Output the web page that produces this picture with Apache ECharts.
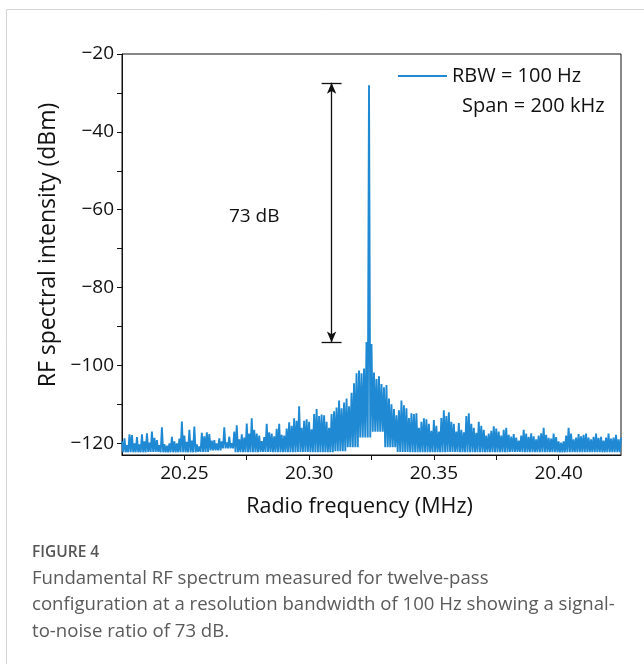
<!DOCTYPE html>
<html>
<head>
<meta charset="utf-8">
<script src="https://cdn.jsdelivr.net/npm/echarts@6/dist/echarts.min.js"></script>
<style>
  html, body { margin: 0; padding: 0; background: #fff; }
  #main { width: 644px; height: 664px; }
</style>
</head>
<body>
<div id="main"></div>
<script>
// RF spectrum, span 200 kHz around 20.325 MHz, 1 kHz per point
var freqStart = 20.225;
var freqStep = 0.001;

// top of the trace at every kHz (dBm)
var peaks = [
  -119.5, -118.7, -120.5, -117.7, -117.9, -120, -118.4, -120.3, -117.7, -119.5,
  -117.4, -119.8, -117, -118.6, -119.2, -120.5, -115.9, -120.2, -120.6, -120,
  -118.3, -119.5, -120, -118.8, -114.4, -118, -119.6, -116.5, -119.3, -115.7,
  -120.3, -120.8, -117.3, -118.2, -117.2, -117.6, -119.3, -119.2, -120, -118.7,
  -119.5, -115.9, -119.8, -118.3, -120, -117, -115.4, -119, -117.7, -118.5,
  -114.9, -117.5, -113.6, -116.5, -117.5, -118, -119.4, -118.4, -115, -117.2,
  -117.5, -118.2, -116.3, -115, -117.8, -118, -116.2, -114.6, -115.5, -113.6,
  -114.2, -110.5, -116, -114.2, -113.8, -114.5, -116.4, -112.5, -111.2, -113,
  -112.6, -112.8, -114.5, -116, -112.5, -111.8, -110.8, -109, -111, -109.5,
  -108.5, -110.5, -107, -104.6, -102, -101.3, -102, -100.8, -94, -28,
  -94.5, -101.8, -103.5, -102.8, -104.8, -105.6, -105, -108.5, -110, -111.2,
  -112.8, -111.5, -109, -110.2, -111, -113.5, -112.3, -112.5, -112.3, -116,
  -114.5, -113.6, -113.8, -115, -116.8, -114, -115.5, -117, -113.5, -111.5,
  -113, -112, -114.5, -115, -117, -114.8, -116.5, -117.2, -113, -112.3,
  -115, -116, -117.3, -114.5, -115.5, -116.5, -118, -117.5, -116.8, -115.6,
  -116.2, -117, -118, -116.5, -116, -117.8, -118.3, -117.6, -118.5, -119.3,
  -118, -116.5, -117.5, -118.3, -117.4, -118.2, -119, -118, -117.4, -116,
  -117.8, -118.6, -118.8, -117.5, -118.4, -119.5, -119.8, -119.5, -118, -116,
  -117.5, -119, -118.5, -117.6, -118.2, -117.8, -117.5, -118.5, -119, -118.3,
  -117.5, -118.6, -118.3, -119.3, -118.5, -117.5, -118.8, -118.5, -117.8, -119,
  -118.5
];

// bottom of the trace, one value per 5 kHz
var floors = [
  -122.3, -122.3, -122.2, -122.3, -122.3, -122.3, -122.2, -121.8, -121.3, -122.3,
  -122.3, -122.2, -122.3, -122.3, -122.2, -122.3, -122.3, -122, -121, -118.5,
  -117, -121, -122.2, -122.3, -122.3, -122.3, -122.2, -122.3, -122.3, -122.3,
  -122.3, -122.2, -122.3, -122.3, -122.3, -122.3, -122.3, -122.3, -122.3, -122.3,
  -122.3
];

var yLabelValues = [-120, -100, -80, -60, -40, -20];
var yTickValues = [-120, -110, -100, -90, -80, -70, -60, -50, -40, -30, -20];
var xLabelValues = [20.25, 20.30, 20.35, 20.40];
var xTickValues = [20.25, 20.275, 20.30, 20.325, 20.35, 20.375, 20.40];

// 73 dB arrow
var snrFreq = 20.309;
var snrTop = -27.4;
var snrBottom = -94.1;
var snrBarHalf = 0.004;
var snrLabelPos = [20.278, -61.8];

var traceColor = '#1f8ad3';
var font = 'Open Sans';

var trace = [];
for (var i = 0; i < peaks.length; i++) {
  trace.push([freqStart + i * freqStep, peaks[i]]);
  if (i < peaks.length - 1) {
    trace.push([freqStart + (i + 0.5) * freqStep, floors[Math.floor(i / 5)]]);
  }
}

var myChart = echarts.init(document.getElementById('main'));

var option = {
  animation: false,
  grid: {
    left: 122,
    top: 54,
    right: 23,
    bottom: 209,
    show: true,
    borderColor: '#111',
    borderWidth: 1,
    outerBoundsMode: 'none'
  },
  legend: {
    data: ['RBW = 100 Hz'],
    left: 398,
    top: 66,
    padding: 0,
    icon: 'rect',
    itemWidth: 49,
    itemHeight: 2,
    itemGap: 10,
    textStyle: { fontFamily: font, fontSize: 20, color: '#111' }
  },
  xAxis: {
    type: 'value',
    min: 20.225,
    max: 20.425,
    name: 'Radio frequency (MHz)',
    nameLocation: 'middle',
    nameGap: 41,
    nameTextStyle: { fontFamily: font, fontSize: 21.5, color: '#111', padding: [0, 24, 0, 0] },
    axisLine: { lineStyle: { color: '#111', width: 1 } },
    axisTick: { show: true, inside: false, length: 5, customValues: xTickValues, lineStyle: { color: '#111' } },
    axisLabel: {
      customValues: xLabelValues,
      margin: 9,
      fontFamily: font,
      fontSize: 19,
      color: '#111',
      formatter: function (v) { return v.toFixed(2); }
    },
    splitLine: { show: false }
  },
  yAxis: {
    type: 'value',
    min: -123,
    max: -20,
    name: 'RF spectral intensity (dBm)',
    nameLocation: 'middle',
    nameGap: 62,
    nameTextStyle: { fontFamily: font, fontSize: 23, color: '#111', padding: [0, 0, 0, 19] },
    axisLine: { show: true, lineStyle: { color: '#111', width: 1 } },
    axisTick: { show: true, inside: false, length: 5, customValues: yTickValues, lineStyle: { color: '#111' } },
    axisLabel: {
      customValues: yLabelValues,
      margin: 8,
      fontFamily: font,
      fontSize: 19,
      color: '#111',
      formatter: function (v) { return String(v).replace('-', '\u2212'); }
    },
    splitLine: { show: false }
  },
  series: [{
    name: 'RBW = 100 Hz',
    type: 'line',
    data: trace,
    showSymbol: false,
    symbol: 'none',
    lineStyle: { color: traceColor, width: 1.9 },
    itemStyle: { color: traceColor },
    markLine: {
      silent: true,
      animation: false,
      label: { show: false },
      lineStyle: { color: '#111', width: 1.3, type: 'solid' },
      symbolSize: [7, 11],
      data: [
        [{ coord: [snrFreq, snrTop], symbol: 'arrow' }, { coord: [snrFreq, snrBottom], symbol: 'arrow' }],
        [{ coord: [snrFreq - snrBarHalf, snrTop], symbol: 'none' }, { coord: [snrFreq + snrBarHalf, snrTop], symbol: 'none' }],
        [{ coord: [snrFreq - snrBarHalf, snrBottom], symbol: 'none' }, { coord: [snrFreq + snrBarHalf, snrBottom], symbol: 'none' }]
      ]
    },
    markPoint: {
      silent: true,
      symbol: 'circle',
      symbolSize: 1,
      itemStyle: { color: 'rgba(0,0,0,0)' },
      label: { show: true, position: 'inside', fontFamily: font, fontSize: 19, color: '#111', formatter: '73 dB' },
      data: [{ coord: snrLabelPos }]
    }
  }],
  graphic: [
    { type: 'line', shape: { x1: 6.5, y1: 9.5, x2: 644, y2: 9.5 }, style: { stroke: '#d4d4d4', lineWidth: 1 } },
    { type: 'line', shape: { x1: 6.5, y1: 9.5, x2: 6.5, y2: 664 }, style: { stroke: '#d4d4d4', lineWidth: 1 } },
    { type: 'text', left: 462, top: 96, style: { text: 'Span = 200 kHz', font: '20px "Open Sans", sans-serif', fill: '#111' } },
    { type: 'text', left: 32, top: 545, style: { text: 'FIGURE 4', font: '600 15.5px "Open Sans", sans-serif', fill: '#555' } },
    {
      type: 'text', left: 32, top: 565,
      style: {
        text: 'Fundamental RF spectrum measured for twelve-pass\nconfiguration at a resolution bandwidth of 100 Hz showing a signal-\nto-noise ratio of 73 dB.',
        font: '18.6px "Open Sans", sans-serif',
        lineHeight: 26.8,
        fill: '#5a5a5a'
      }
    }
  ]
};

myChart.setOption(option);
</script>
</body>
</html>
